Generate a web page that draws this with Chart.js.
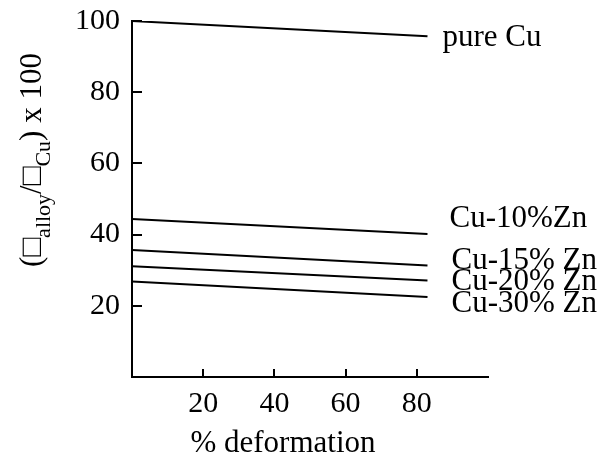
<!DOCTYPE html>
<html>
<head>
<meta charset="utf-8">
<script src="https://cdn.jsdelivr.net/npm/chart.js@4/dist/chart.umd.min.js"></script>
<style>
html,body{margin:0;padding:0;background:#fff;}
canvas{display:block;}
</style>
</head>
<body>
<canvas id="c" width="606" height="466"></canvas>
<script>
// ---- data ----
const deformation = [0, 83];
const pureCu = [100, 95.7];
const cu10Zn = [44.4, 40.2];
const cu15Zn = [35.7, 31.3];
const cu20Zn = [31.1, 27.1];
const cu30Zn = [26.8, 22.5];
const seriesLabels = ['pure Cu', 'Cu-10%Zn', 'Cu-15% Zn', 'Cu-20% Zn', 'Cu-30% Zn'];
const xTickLabels = [20, 40, 60, 80];
const yTickLabels = [20, 40, 60, 80, 100];
const xTitle = '% deformation';
const yTitleParts = ['(', '\u25A1', 'alloy', '/', '\u25A1', 'Cu', ') x 100'];

const SERIF = "'Liberation Serif', 'Times New Roman', 'DejaVu Serif', serif";
const allSeries = [pureCu, cu10Zn, cu15Zn, cu20Zn, cu30Zn];

const datasets = allSeries.map((vals, i) => ({
  label: seriesLabels[i],
  data: deformation.map((x, j) => ({x: x, y: vals[j]})),
  borderColor: '#000',
  borderWidth: 2,
  pointRadius: 0,
  fill: false,
  tension: 0
}));

// label offsets (pixels) relative to each line's end point
const labelOffsets = [[15, 10], [22, -7], [24, 3], [24, 9], [24, 15]];

const decor = {
  id: 'decor',
  afterDraw(chart) {
    const ctx = chart.ctx;
    const xs = chart.scales.x, ys = chart.scales.y;
    const ca = chart.chartArea;
    ctx.save();
    ctx.strokeStyle = '#000';
    ctx.lineWidth = 2;
    // inward tick marks
    yTickLabels.forEach(v => {
      const py = Math.round(ys.getPixelForValue(v));
      ctx.beginPath(); ctx.moveTo(ca.left, py); ctx.lineTo(ca.left + 10, py); ctx.stroke();
    });
    xTickLabels.forEach(v => {
      const px = Math.round(xs.getPixelForValue(v));
      ctx.beginPath(); ctx.moveTo(px, ca.bottom); ctx.lineTo(px, ca.bottom - 8); ctx.stroke();
    });
    // series labels
    ctx.fillStyle = '#000';
    ctx.font = '31px ' + SERIF;
    ctx.textAlign = 'left';
    ctx.textBaseline = 'alphabetic';
    allSeries.forEach((vals, i) => {
      const last = deformation.length - 1;
      const px = xs.getPixelForValue(deformation[last]);
      const py = ys.getPixelForValue(vals[last]);
      ctx.fillText(seriesLabels[i], px + labelOffsets[i][0], py + labelOffsets[i][1]);
    });
    // x title
    ctx.font = '31px ' + SERIF;
    ctx.textAlign = 'center';
    ctx.fillText(xTitle, 283, 452);
    // y title (rotated, with subscripts)
    const mainFont = '31px ' + SERIF, subFont = '22px ' + SERIF;
    const isSub = [false, false, true, false, false, true, false];
    let total = 0;
    const widths = yTitleParts.map((t, i) => {
      ctx.font = isSub[i] ? subFont : mainFont;
      const w = ctx.measureText(t).width; total += w; return w;
    });
    ctx.translate(41, 160);
    ctx.rotate(-Math.PI / 2);
    ctx.textAlign = 'left';
    let cx = -total / 2;
    yTitleParts.forEach((t, i) => {
      ctx.font = isSub[i] ? subFont : mainFont;
      ctx.fillText(t, cx, isSub[i] ? 9 : 0);
      cx += widths[i];
    });
    ctx.restore();
  }
};

new Chart(document.getElementById('c'), {
  type: 'line',
  data: {datasets},
  options: {
    responsive: false,
    animation: false,
    layout: {padding: {top: 21, right: 118, left: 0, bottom: 0}},
    plugins: {legend: {display: false}, tooltip: {enabled: false}},
    scales: {
      x: {
        type: 'linear', min: 0, max: 100,
        grid: {display: false, drawTicks: false},
        border: {display: true, color: '#000', width: 2},
        afterFit(s) { s.height = 89; s.paddingLeft = 0; s.paddingRight = 0; },
        afterBuildTicks(s) { s.ticks = xTickLabels.map(v => ({value: v})); },
        ticks: {
          color: '#000', padding: 9, maxRotation: 0, autoSkip: false,
          font: {family: SERIF, size: 30}
        }
      },
      y: {
        min: 0, max: 100,
        grid: {display: false, drawTicks: false},
        border: {display: true, color: '#000', width: 2},
        afterFit(s) { s.width = 132; s.paddingTop = 0; s.paddingBottom = 0; },
        afterBuildTicks(s) { s.ticks = yTickLabels.map(v => ({value: v})); },
        ticks: {
          color: '#000', padding: 12,
          font: {family: SERIF, size: 30}
        }
      }
    }
  },
  plugins: [decor]
});
</script>
</body>
</html>
